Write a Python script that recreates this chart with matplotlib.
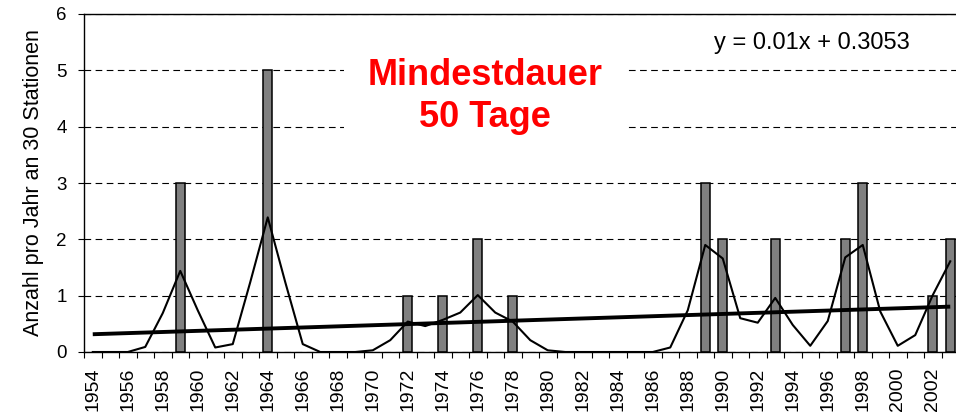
import matplotlib
matplotlib.use("Agg")
import matplotlib.pyplot as plt
import numpy as np

plt.rcParams['font.family'] = ['Liberation Sans', 'DejaVu Sans']

#------------------
# Data
#------------------

years = list(range(1954, 2004))

# number of events per year (bars)
counts = [0, 0, 0, 0, 0, 3, 0, 0, 0, 0,
          5, 0, 0, 0, 0, 0, 0, 0, 1, 0,
          1, 0, 2, 0, 1, 0, 0, 0, 0, 0,
          0, 0, 0, 0, 0, 3, 2, 0, 0, 2,
          0, 0, 0, 2, 3, 0, 0, 0, 1, 2]

# smoothed curve
smoothed = [0, 0, 0, 0.09, 0.69, 1.44, 0.74, 0.08, 0.14, 1.24,
            2.39, 1.24, 0.14, 0, 0, 0, 0.03, 0.21, 0.54, 0.46,
            0.57, 0.70, 1.01, 0.70, 0.54, 0.21, 0.03, 0, 0, 0,
            0, 0, 0, 0.08, 0.74, 1.90, 1.66, 0.60, 0.52, 0.96,
            0.48, 0.11, 0.55, 1.68, 1.90, 0.72, 0.11, 0.30, 1.01, 1.61]

# linear trend y = slope * x + intercept, x = 1..50
slope = 0.01
intercept = 0.3053

title = "Mindestdauer\n50 Tage"
equation = "y = 0.01x + 0.3053"
ylabel = "Anzahl pro Jahr an 30 Stationen"

#------------------
# Plot
#------------------

x = np.arange(len(years))
counts_arr = np.array(counts)
trend = slope * (x + 1) + intercept

fig = plt.figure(figsize=(9.56, 4.16), dpi=100)
ax = fig.add_axes([84 / 956, 1 - 352 / 416, 875 / 956, 338 / 416])

# only years with events get a bar (avoid flat outlines on the baseline)
has = counts_arr > 0
ax.bar(x[has], counts_arr[has], width=0.5, color='#808080', edgecolor='black',
       linewidth=1.1, zorder=2)
ax.plot(x, smoothed, color='black', linewidth=1.5, zorder=3)
ax.plot(x, trend, color='black', linewidth=2.8, solid_capstyle='butt', zorder=4)

ax.set_xlim(-0.5, len(years) - 0.5)
ax.set_ylim(0, 6)
ax.set_yticks(range(7))
ax.grid(axis='y', color='black', linewidth=0.8, linestyle=(0, (6, 4)))
ax.set_axisbelow(True)

# labels every second year at the category centres, ticks between categories
ax.set_xticks(x[::2])
ax.set_xticklabels([str(y) for y in years[::2]], rotation=90)
ax.set_xticks(np.arange(len(years) + 1) - 0.5, minor=True)
ax.tick_params(axis='x', which='major', length=0, pad=11, labelsize=14)
ax.tick_params(axis='x', which='minor', length=4, width=0.8, direction='out')
ax.tick_params(axis='y', length=4.5, width=0.8, direction='out', labelsize=13.5, pad=8)

for side in ['left', 'bottom', 'top']:
    ax.spines[side].set_linewidth(1.0)
ax.spines['right'].set_visible(False)

ax.set_ylabel(ylabel, fontsize=15.5, labelpad=9)

ax.text(0.458, 0.755, title, transform=ax.transAxes, ha='center', va='center',
        fontsize=26, fontweight='bold', color='red', linespacing=1.25,
        bbox=dict(facecolor='white', edgecolor='none', pad=17), zorder=5)
ax.text(0.832, 0.914, equation, transform=ax.transAxes, ha='center', va='center',
        fontsize=17, color='black', zorder=5)

fig.savefig("out.png", dpi=100)
